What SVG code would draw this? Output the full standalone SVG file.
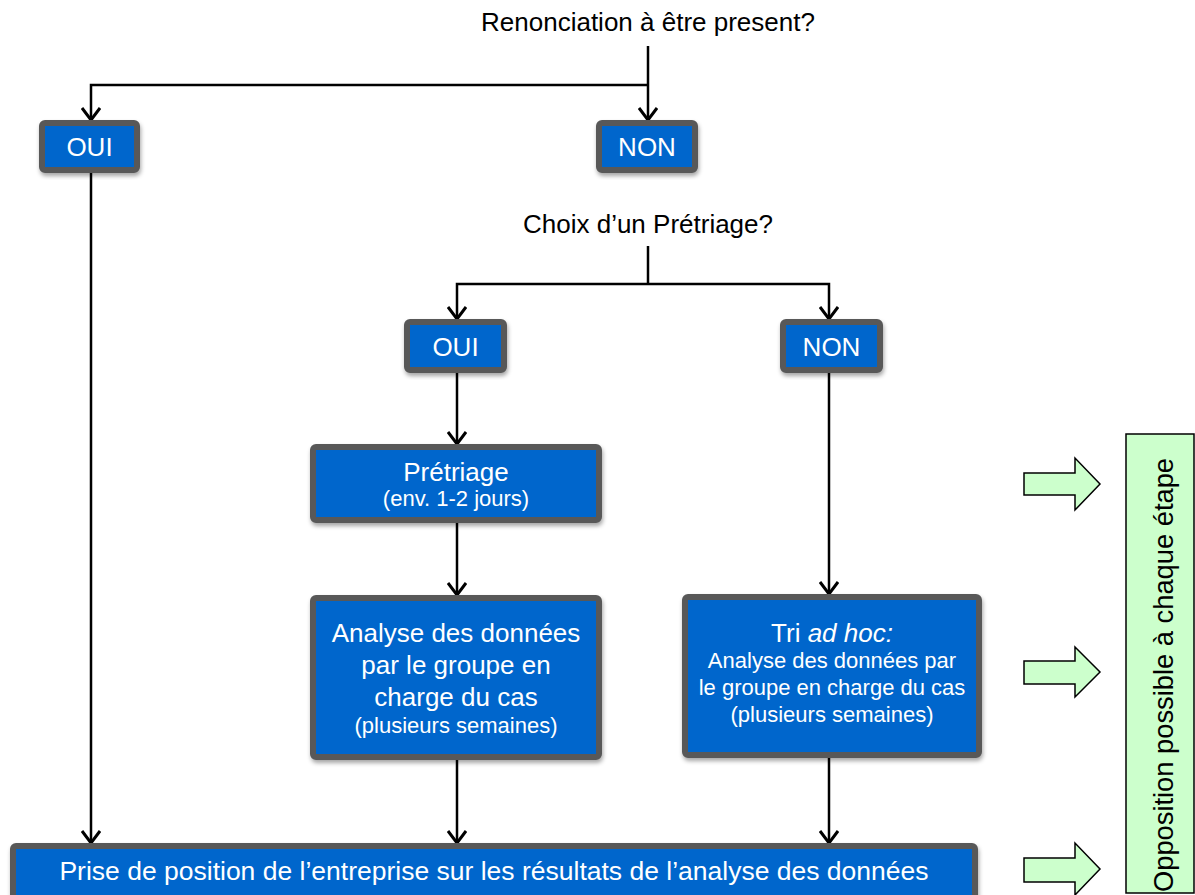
<svg xmlns="http://www.w3.org/2000/svg" width="1195" height="895" viewBox="0 0 1195 895">
<defs>
<style>
.box{fill:#0066CC;stroke:#595959;stroke-width:6}
.bt{fill:#fff;font-family:"Liberation Sans",Arial,sans-serif;text-anchor:middle}
.t26{font-size:26px}
.t22{font-size:22px}
.q{fill:#000;font-family:"Liberation Sans",Arial,sans-serif;font-size:26px;text-anchor:middle}
.ln{fill:none;stroke:#000;stroke-width:2.5}
.ga{fill:#CCFFCC;stroke:#000;stroke-width:1.5}
</style>
<marker id="ah" viewBox="0 0 20 20" refX="18" refY="10" markerWidth="20" markerHeight="20" markerUnits="userSpaceOnUse" orient="auto">
<path d="M6,1 L18,10 L6,19" fill="none" stroke="#000" stroke-width="3"/>
</marker>
<filter id="sh" x="-10%" y="-10%" width="120%" height="130%">
<feDropShadow dx="1" dy="3" stdDeviation="2" flood-color="#000" flood-opacity="0.35"/>
</filter>
</defs>
<rect width="1195" height="895" fill="#fff"/>

<g id="q1"><text class="q" x="648" y="31">Renonciation à être present?</text></g>
<g id="q2"><text class="q" x="648" y="233">Choix d’un Prétriage?</text></g>

<g id="connectors">
<path class="ln" d="M648,46 V85"/>
<path class="ln" d="M648,85 H91 V120" marker-end="url(#ah)"/>
<path class="ln" d="M648,85 V120" marker-end="url(#ah)"/>
<path class="ln" d="M648,246 V284"/>
<path class="ln" d="M648,284 H457 V319" marker-end="url(#ah)"/>
<path class="ln" d="M648,284 H829 V319" marker-end="url(#ah)"/>
<path class="ln" d="M91,173 V843" marker-end="url(#ah)"/>
<path class="ln" d="M457,373 V444" marker-end="url(#ah)"/>
<path class="ln" d="M457,523 V595" marker-end="url(#ah)"/>
<path class="ln" d="M457,760 V843" marker-end="url(#ah)"/>
<path class="ln" d="M829,373 V594" marker-end="url(#ah)"/>
<path class="ln" d="M829,758 V843" marker-end="url(#ah)"/>
</g>

<g id="oui1"><rect class="box" filter="url(#sh)" x="42" y="123" width="95" height="47" rx="3"/><text class="bt t26" x="89.5" y="156">OUI</text></g>
<g id="non1"><rect class="box" filter="url(#sh)" x="599" y="123" width="96" height="47" rx="3"/><text class="bt t26" x="647" y="156">NON</text></g>
<g id="oui2"><rect class="box" filter="url(#sh)" x="407" y="322" width="97" height="48" rx="3"/><text class="bt t26" x="455.5" y="356">OUI</text></g>
<g id="non2"><rect class="box" filter="url(#sh)" x="783" y="322" width="97" height="48" rx="3"/><text class="bt t26" x="831.5" y="356">NON</text></g>

<g id="pretriage"><rect class="box" filter="url(#sh)" x="313" y="447" width="286" height="73" rx="3"/>
<text class="bt t26" x="456" y="481">Prétriage</text>
<text class="bt t22" x="456" y="506">(env. 1-2 jours)</text></g>

<g id="analyse"><rect class="box" filter="url(#sh)" x="313" y="598" width="286" height="159" rx="3"/>
<text class="bt t26" x="456" y="642">Analyse des données</text>
<text class="bt t26" x="456" y="674">par le groupe en</text>
<text class="bt t26" x="456" y="706">charge du cas</text>
<text class="bt t22" x="456" y="733">(plusieurs semaines)</text></g>

<g id="tri"><rect class="box" filter="url(#sh)" x="685" y="597" width="294" height="158" rx="3"/>
<text class="bt t26" x="832" y="642">Tri <tspan font-style="italic">ad hoc:</tspan></text>
<text class="bt t22" x="832" y="668">Analyse des données par</text>
<text class="bt t22" x="832" y="695">le groupe en charge du cas</text>
<text class="bt t22" x="832" y="722">(plusieurs semaines)</text></g>

<g id="prise"><rect class="box" filter="url(#sh)" x="13" y="846" width="962" height="60" rx="3"/>
<text class="bt" font-size="26.5" x="494" y="880">Prise de position de l’entreprise sur les résultats de l’analyse des données</text></g>

<g id="green-arrows">
<polygon class="ga" points="1024,473 1075,473 1075,458 1100,484 1075,510 1075,495 1024,495"/>
<polygon class="ga" points="1024,661 1075,661 1075,647 1100,672 1075,697 1075,684 1024,684"/>
<polygon class="ga" points="1024,858 1075,858 1075,843 1100,869 1075,895 1075,882 1024,882"/>
</g>

<g id="opposition"><rect class="ga" x="1126" y="434" width="68" height="459"/>
<text transform="translate(1173,675) rotate(-90)" font-family="Liberation Sans,Arial,sans-serif" font-size="27.3" text-anchor="middle" fill="#000">Opposition possible à chaque étape</text></g>
</svg>
